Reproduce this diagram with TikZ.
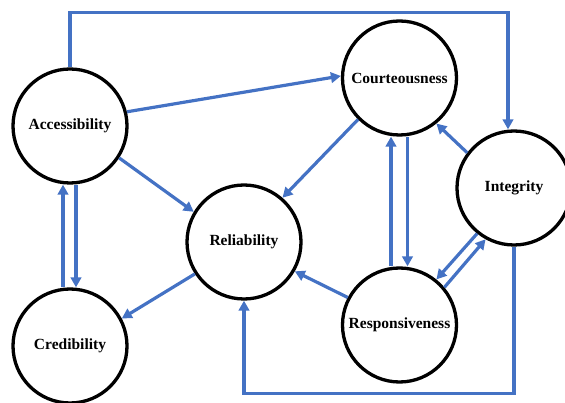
\documentclass[tikz,border=0pt]{standalone}
\usepackage{fontspec}
\setmainfont{Liberation Serif}
\usetikzlibrary{arrows.meta}
\definecolor{linkblue}{HTML}{4472C4}
\begin{document}
\begin{tikzpicture}[x=1pt,y=-1pt,
  factor/.style={circle,draw=black,line width=3.3pt,minimum size=114pt,inner sep=0pt,
    font=\fontsize{15.5}{18}\selectfont\bfseries},
  conn/.style={draw=linkblue,line width=3.2pt,
    -{Triangle[length=10pt,width=10.5pt]}}]
\useasboundingbox (0,0) rectangle (565,403);

% factors
\node[factor] (A)  at (70,126)    {Accessibility};
\node[factor] (Cr) at (70,346)    {Credibility};
\node[factor] (R)  at (244,242)   {Reliability};
\node[factor] (Co) at (399.5,78)  {Courteousness};
\node[factor] (I)  at (514,188)   {Integrity};
\node[factor] (Rs) at (399.5,325) {Responsiveness};

% links
\draw[conn] (A.north) -- ++(0,-55) -| ([xshift=-6pt]I.north);
\draw[conn] (A.14) -- (Co.178);
\draw[conn] (A.-33) -- (R.149);
\draw[conn] ([xshift=-7pt]Cr.north) -- ([xshift=-7pt]A.south);
\draw[conn] ([xshift=6pt]A.south) -- ([xshift=6pt]Cr.north);
\draw[conn] (R.213) -- (Cr.28);
\draw[conn] (Co.225) -- (R.49);
\draw[conn] ([xshift=-8.5pt]Rs.north) -- ([xshift=-8.5pt]Co.south);
\draw[conn] ([xshift=8pt]Co.south) -- ([xshift=8pt]Rs.north);
\draw[conn] (I.143) -- (Co.-51);
\draw[conn] (I.231) -- (Rs.51);
\draw[conn] (Rs.40) -- (I.241);
\draw[conn] (Rs.152) -- (R.-30);
\draw[conn] (I.south) -- ++(0,147) -| (R.south);
\end{tikzpicture}
\end{document}
